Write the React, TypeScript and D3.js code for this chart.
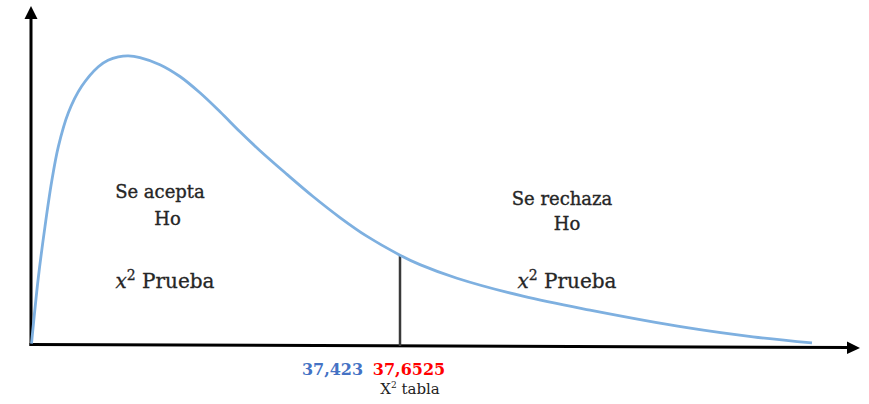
import React, { useEffect, useRef } from "react";
import * as d3 from "d3";

// Curve (x in chi-square units, y in relative density).
const curveX = [0.05, 0.74, 1.43, 2.11, 2.79, 3.81, 5.17, 6.87, 7.86, 8.91, 9.93, 11.12, 13.16, 15.2, 17.24, 19.29, 21.33, 23.37, 26.09, 28.78, 31.53, 34.26, 37.6525, 39.69, 43.47, 50.2, 57.04, 66.94, 73.67, 79.69];
const curveY = [0.4, 19.7, 35.0, 48.2, 58.5, 68.5, 76.3, 82.1, 84.0, 85.0, 85.3, 84.8, 82.7, 79.2, 74.4, 68.8, 62.9, 57.3, 50.4, 43.8, 37.6, 32.1, 26.5, 23.7, 19.7, 14.4, 10.3, 5.1, 2.4, 0.6];

const criticalValue = 37.6525;
const testLabel = "37,423";
const criticalLabel = "37,6525";

const W = 869;
const H = 404;

const App = () => {
  const ref = useRef<SVGSVGElement>(null);

  useEffect(() => {
    const svg = d3.select(ref.current);
    svg.selectAll("*").remove();

    const x0 = 31, x1 = 860, y0 = 345, y1 = 6;

    // x-scale: chi-square value to pixels
    const xScale = d3.scaleLinear().domain([0, 84.59]).range([x0, x1]);
    const yScale = d3.scaleLinear().domain([0, 100]).range([y0, y1]);

    const data = curveX.map((x, i) => ({ x, y: curveY[i] }));

    // Y axis with arrow head
    svg.append("line")
      .attr("x1", x0).attr("y1", y0 + 1)
      .attr("x2", x0).attr("y2", y1 + 8)
      .attr("stroke", "#000").attr("stroke-width", 3);
    svg.append("path")
      .attr("d", `M${x0},${y1} L${x0 - 6.5},${y1 + 13} L${x0 + 6.5},${y1 + 13} Z`)
      .attr("fill", "#000");

    // X axis (the original is drawn very slightly tilted)
    svg.append("line")
      .attr("x1", x0 - 1.5).attr("y1", y0 - 0.5)
      .attr("x2", x1 - 8).attr("y2", y0 + 2.5)
      .attr("stroke", "#000").attr("stroke-width", 3);
    svg.append("path")
      .attr("d", `M${x1},${y0 + 3} L${x1 - 13},${y0 - 3.5} L${x1 - 13},${y0 + 9} Z`)
      .attr("fill", "#000");

    // Critical value line
    const critIdx = curveX.findIndex(v => v >= criticalValue);
    svg.append("line")
      .attr("x1", xScale(criticalValue)).attr("x2", xScale(criticalValue))
      .attr("y1", y0 + 1).attr("y2", yScale(curveY[critIdx]))
      .attr("stroke", "#3a3a3a").attr("stroke-width", 2.5);

    const line = d3.line<{ x: number; y: number }>()
      .x(d => xScale(d.x))
      .y(d => yScale(d.y))
      .curve(d3.curveCatmullRom.alpha(0.5));

    svg.append("path")
      .datum(data)
      .attr("fill", "none")
      .attr("stroke", "#7eb0e0")
      .attr("stroke-width", 2.8)
      .attr("d", line);

    const font = "'DejaVu Serif', serif";
    const txt = (x: number, y: number, s: string, size = 18) =>
      svg.append("text")
        .attr("x", x).attr("y", y)
        .attr("text-anchor", "middle")
        .attr("font-family", font)
        .attr("font-size", size)
        .attr("fill", "#262626")
        .attr("stroke", "#262626")
        .attr("stroke-width", 0.35)
        .text(s);

    txt(160, 198, "Se acepta");
    txt(167.5, 225, "Ho");
    txt(562, 205, "Se rechaza");
    txt(567, 230, "Ho");

    const prueba = (x: number, y: number) => {
      const t = svg.append("text")
        .attr("x", x).attr("y", y)
        .attr("text-anchor", "middle")
        .attr("font-family", font)
        .attr("font-size", 20)
        .attr("fill", "#262626")
        .attr("stroke", "#262626")
        .attr("stroke-width", 0.3);
      t.append("tspan").attr("font-style", "italic").text("x");
      t.append("tspan").attr("font-size", 14).attr("dy", -8).text("2");
      t.append("tspan").attr("dy", 8).text(" Prueba");
    };
    prueba(165, 288);
    prueba(567, 288);

    svg.append("text")
      .attr("x", 332.5).attr("y", 375)
      .attr("text-anchor", "middle")
      .attr("font-family", font).attr("font-weight", "bold")
      .attr("font-size", 16).attr("fill", "#4472c4")
      .text(testLabel);
    svg.append("text")
      .attr("x", 409).attr("y", 375)
      .attr("text-anchor", "middle")
      .attr("font-family", font).attr("font-weight", "bold")
      .attr("font-size", 16).attr("fill", "#ff0000")
      .text(criticalLabel);

    const tab = svg.append("text")
      .attr("x", 410).attr("y", 394)
      .attr("text-anchor", "middle")
      .attr("font-family", font)
      .attr("font-size", 15).attr("fill", "#222");
    tab.append("tspan").text("X");
    tab.append("tspan").attr("font-size", 9).attr("dy", -6).text("2");
    tab.append("tspan").attr("dy", 6).text(" tabla");
  }, []);

  return (
    <svg ref={ref} width={W} height={H}
      style={{ position: "absolute", left: 0, top: 0, background: "#fff" }} />
  );
};

export default App;
